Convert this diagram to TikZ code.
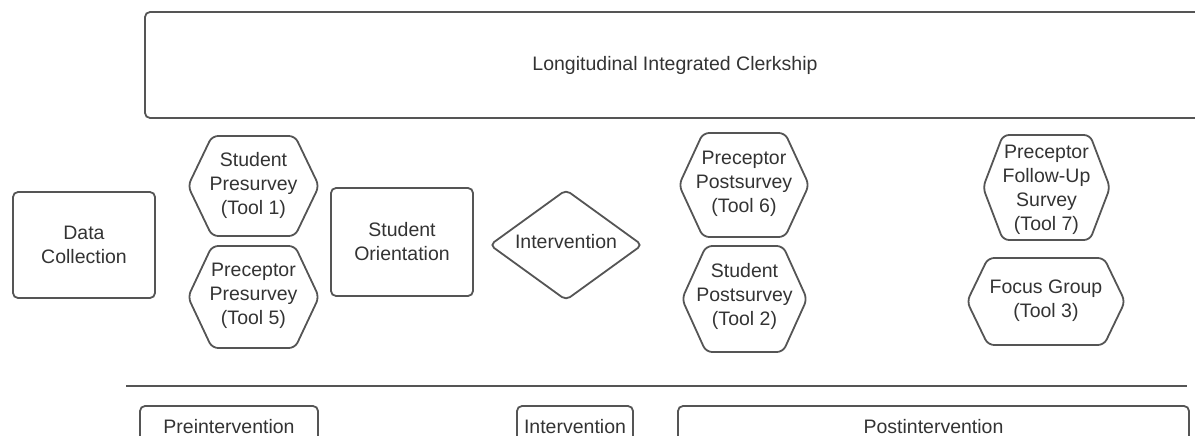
\documentclass[tikz,border=0pt]{standalone}
\usepackage{fontspec}
\setmainfont{Liberation Sans}
\definecolor{ln}{HTML}{555555}
\definecolor{tx}{HTML}{333333}
\tikzset{
  txt/.style={text=tx, font=\fontsize{19.5}{24}\selectfont, align=center, inner sep=0pt},
  box/.style={txt, draw=ln, line width=1.8pt, rounded corners=5pt},
  shapeline/.style={draw=ln, line width=1.8pt, rounded corners=6pt},
}
% name, cx, cy, half width, half height, inset, text y, text
\newcommand\hexat[8]{%
  \node[txt] (#1) at (#2,#7) {#8};
  \draw[shapeline] (#2,#3-#5) -- (#2+#4-#6,#3-#5) -- (#2+#4,#3) -- (#2+#4-#6,#3+#5)
     -- (#2-#4+#6,#3+#5) -- (#2-#4,#3) -- (#2-#4+#6,#3-#5) -- cycle;
}
\begin{document}
\begin{tikzpicture}[x=1pt,y=-1pt]
  \useasboundingbox (0,0) rectangle (1195,436);
  \clip (0,0) rectangle (1195,436);
  % top box
  \node[box, minimum width=1060pt, minimum height=106pt] (lic) at (675,65) {Longitudinal Integrated Clerkship};
  % left
  \node[box, minimum width=142pt, minimum height=106pt] (data) at (84,245) {Data\\Collection};
  \hexat{spre}{253.5}{186}{65.5}{50}{24}{185}{Student\\Presurvey\\(Tool 1)}
  \hexat{ppre}{253.5}{297}{65.5}{51}{24}{296}{Preceptor\\Presurvey\\(Tool 5)}
  \node[box, minimum width=142pt, minimum height=108pt] (orient) at (402,242) {Student\\Orientation};
  % diamond
  \node[txt] (interv) at (566,242) {Intervention};
  \draw[shapeline, rounded corners=5pt] (566,190) -- (642,245) -- (566,300) -- (490,245) -- cycle;
  % post
  \hexat{ppost}{744}{185}{65}{52}{24}{184}{Preceptor\\Postsurvey\\(Tool 6)}
  \hexat{spost}{744.5}{299}{62.5}{53}{24}{296}{Student\\Postsurvey\\(Tool 2)}
  \hexat{pfollow}{1046.5}{187.5}{63.5}{52.5}{20}{190}{Preceptor\\Follow-Up\\Survey\\(Tool 7)}
  \hexat{focus}{1046}{301.5}{79}{43.5}{21}{301}{Focus Group\\(Tool 3)}
  % timeline
  \coordinate (l1) at (126,386);
  \coordinate (l2) at (1187,386);
  \draw[draw=ln, line width=1.8pt] (l1) -- (l2);
  \node[box, minimum width=178pt, minimum height=60pt] (pre) at (229,436) {};
  \node[txt] (pretxt) at (229,427) {Preintervention};
  \node[box, minimum width=116pt, minimum height=60pt] (mid) at (575,436) {};
  \node[txt] (midtxt) at (575,427) {Intervention};
  \node[box, minimum width=511pt, minimum height=60pt] (post) at (933.5,436) {};
  \node[txt] (posttxt) at (933.5,427) {Postintervention};
\end{tikzpicture}
\end{document}
